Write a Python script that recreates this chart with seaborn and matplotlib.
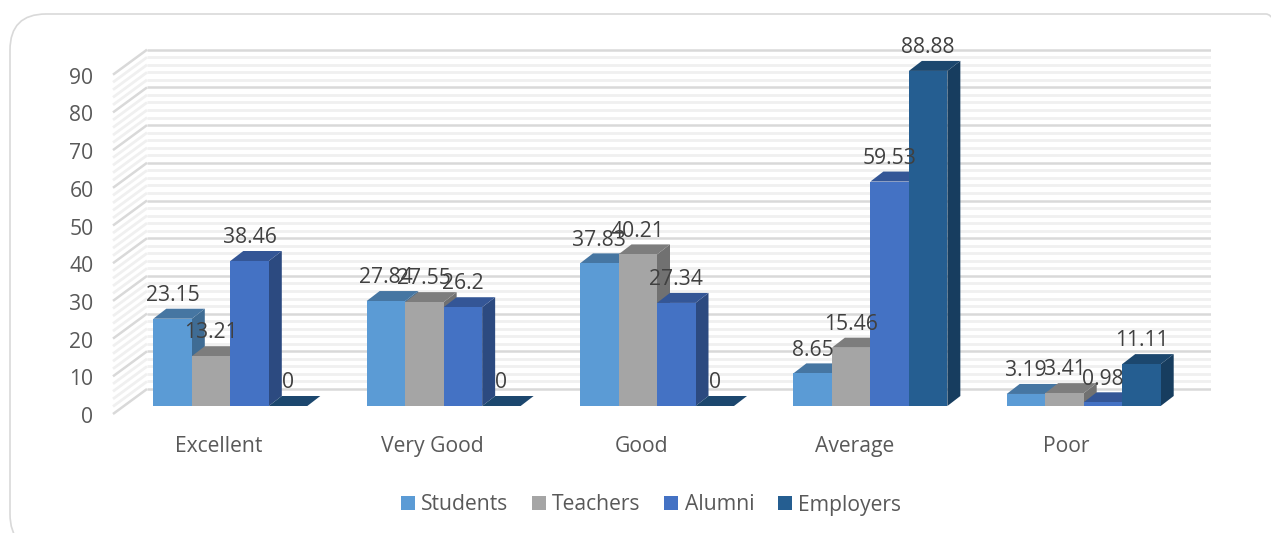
#!/usr/bin/env python
import pandas as pd
import seaborn as sns
import matplotlib.pyplot as plt
from matplotlib.patches import FancyBboxPatch, Polygon
from matplotlib.transforms import ScaledTranslation

categories = ["Excellent", "Very Good", "Good", "Average", "Poor"]
students = [23.15, 27.84, 37.83, 8.65, 3.19]
teachers = [13.21, 27.55, 40.21, 15.46, 3.41]
alumni = [38.46, 26.2, 27.34, 59.53, 0.98]
employers = [0, 0, 0, 88.88, 11.11]
y_ticks = [0, 10, 20, 30, 40, 50, 60, 70, 80, 90]

front_colors = ["#5B9BD5", "#A5A5A5", "#4472C4", "#255E91"]
top_colors = ["#4676A2", "#7D7D7D", "#345696", "#1C476E"]
side_colors = ["#3F6C94", "#717171", "#2C4A80", "#173D5F"]

W, H = 1271, 533
PX_X = 213.35  # pixels per category
PX_Y = 3.77    # pixels per y unit
X0 = 230.3     # pixel of the first category

sns.set_theme(style="white")
plt.rcParams["font.family"] = ["Open Sans", "DejaVu Sans"]

df = pd.DataFrame({"category": categories, "Students": students, "Teachers": teachers,
                   "Alumni": alumni, "Employers": employers})
df = df.melt(id_vars="category", var_name="group", value_name="value")

fig = plt.figure(figsize=(W / 100, H / 100), dpi=100)
ax = fig.add_axes([113 / W, 1 - 420 / H, (1211 - 113) / W, 400 / H])

# card outline, runs off the right and bottom of the image
fig.add_artist(FancyBboxPatch((10 / 100, (H - 550) / 100), 1292 / 100, 536 / 100,
                              boxstyle="round,pad=0,rounding_size=0.36",
                              transform=fig.dpi_scale_trans, fc="none", ec="#D9D9D9", lw=1.2))

sns.barplot(data=df, x="category", y="value", hue="group", palette=front_colors,
            width=4 * 38.5 / PX_X, gap=0, saturation=1, ax=ax, zorder=3, linewidth=0, edgecolor="none")

ax.set_xlim((113 - X0) / PX_X, (1211 - X0) / PX_X)
ax.set_ylim(-14 / PX_Y, 386 / PX_Y)
sns.despine(ax=ax, left=True, bottom=True)
ax.set_xlabel("")
ax.set_ylabel("")

# back wall and left wall lines
x_front, x_back = ax.get_xlim()[0], (147 - X0) / PX_X
x_right = ax.get_xlim()[1]
wall_front = -8 / PX_Y
wall_back = 17 / PX_Y
for v in range(0, 92, 2):
	major = v % 10 == 0
	col = "#D9D9D9" if major else "#F0F0F0"
	lw = 1.8 if major else 2.0
	ax.plot([x_back, x_right], [v + wall_back, v + wall_back], color=col, lw=lw, zorder=1 + major * 0.5,
	        solid_capstyle="butt")
	ax.plot([x_front, x_back], [v + wall_front, v + wall_back], color=col, lw=lw, zorder=1 + major * 0.5,
	        solid_capstyle="butt", clip_on=False)

# fake 3d faces, one series after the other so the next one covers them
dx = 13 / PX_X
dy = 10 / PX_Y
for k, cont in enumerate(ax.containers):
	for bar in cont:
		x0, x1 = bar.get_x(), bar.get_x() + bar.get_width()
		h = bar.get_height()
		bar.set_zorder(3 + k)
		ax.add_patch(Polygon([(x1, 0), (x1 + dx, dy), (x1 + dx, h + dy), (x1, h)],
		                     fc=side_colors[k], ec="none", zorder=2.5 + k))
		ax.add_patch(Polygon([(x0, h), (x0 + dx, h + dy), (x1 + dx, h + dy), (x1, h)],
		                     fc=top_colors[k], ec="none", zorder=2.6 + k))
	for t in ax.bar_label(cont, fmt="%g", padding=9.2, fontsize=15.2, color="#404040"):
		t.set_zorder(10)

# category labels sit a bit left of their groups
label_shift = [-12, -11, -15, -16, -17]
ax.set_xticks([i + s / PX_X for i, s in enumerate(label_shift)])
ax.set_xticklabels(categories)
ax.set_yticks(y_ticks)
ax.tick_params(axis="x", length=0, pad=11.5, labelsize=15.2, labelcolor="#595959")
ax.tick_params(axis="y", length=0, pad=14, labelsize=15.2, labelcolor="#595959")
for t in ax.get_yticklabels():
	t.set_transform(t.get_transform() + ScaledTranslation(0, -9 / 100, fig.dpi_scale_trans))

sns.move_legend(ax, "center", bbox_to_anchor=(651 / W, 1 - 505 / H), bbox_transform=fig.transFigure,
                ncol=4, frameon=False, title=None, fontsize=15.2, labelcolor="#595959",
                handlelength=0.66, handleheight=0.66, handletextpad=0.3, columnspacing=1.12,
                borderpad=0, borderaxespad=0)

fig.savefig("out.png", dpi=100)
